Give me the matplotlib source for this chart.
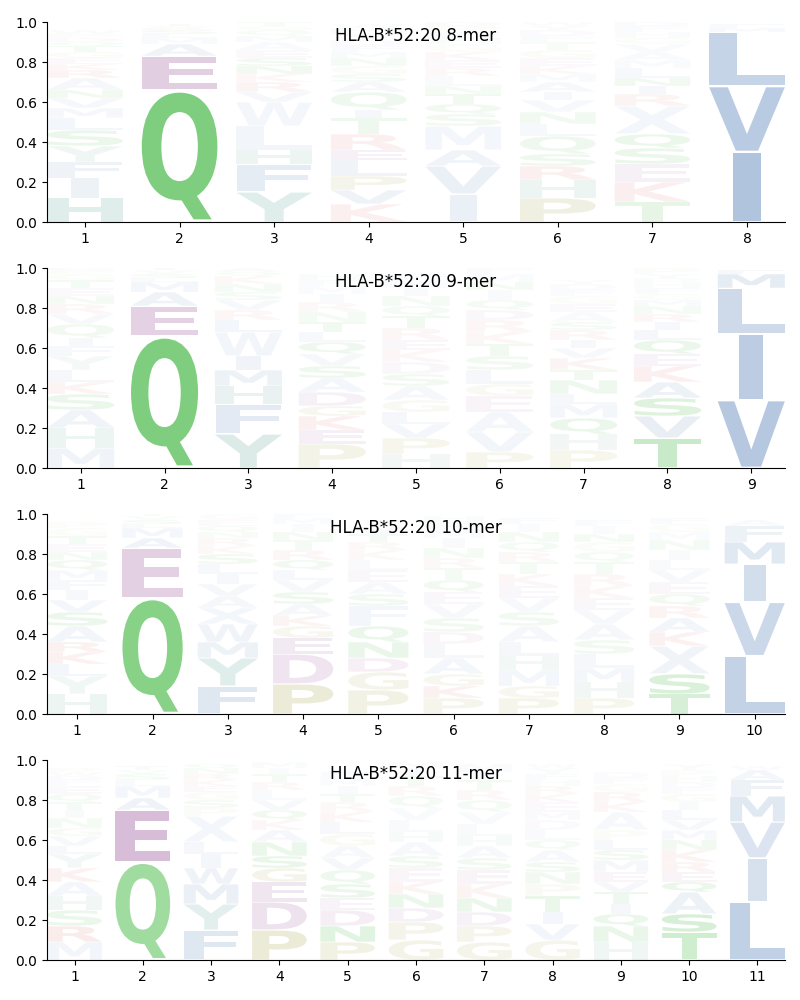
import matplotlib
matplotlib.use("Agg")
import matplotlib.pyplot as plt
from matplotlib.textpath import TextPath
from matplotlib.patches import PathPatch
from matplotlib.font_manager import FontProperties
from matplotlib.transforms import Affine2D

allele = "HLA-B*52:20"
lengths = [8, 9, 10, 11]

# each column: "letter height% opacity%" from bottom to top
logo_8 = [
    "H 12 35, I 10 22, F 8 20, Y 8 18, S 8 14, L 6 14, M 5 12, V 5 12, N 4 10, A 6 12, R 4 12, K 3 10, E 3 8, G 3 8, T 3 8, Q 2 6, D 2 6, P 2 6, W 2 6",
    "Q 66 95, E 17 65, A 6 18, M 3 8, L 2 8, S 2 8, R 1 6, V 1 6, T 1 6",
    "Y 15 35, F 14 32, H 7 20, L 12 16, W 12 14, V 5 12, R 5 12, K 4 10, N 4 10, S 4 10, E 4 8, A 4 8, M 3 8, Q 3 6, G 2 6, T 2 6",
    "K 9 18, V 7 20, P 7 22, L 8 18, E 5 18, R 8 18, T 8 12, I 4 12, Q 9 12, A 5 12, S 4 8, G 4 8, N 4 8, M 3 8, F 3 6, D 3 6, Y 3 6, H 3 6, W 2 5",
    "I 14 25, V 14 25, A 8 18, M 12 15, S 6 10, Q 5 10, T 5 10, N 4 8, L 5 8, R 4 8, E 4 8, K 4 8, G 4 6, H 3 6, F 3 6, P 3 6, D 2 5",
    "P 12 30, H 9 20, R 7 18, S 6 12, Q 9 12, L 6 10, N 6 10, V 6 10, I 4 10, A 5 10, M 4 8, K 4 8, E 4 8, G 4 8, T 4 6, F 3 6, D 3 6, Y 2 5, W 2 5",
    "T 10 18, K 10 20, E 9 18, S 8 14, Q 7 14, X 14 14, R 6 14, I 4 12, N 4 10, L 5 10, M 4 8, A 4 8, V 4 8, G 3 6, H 3 6, F 3 6, D 2 5",
    "I 35 100, V 33 88, L 27 72, M 2 10, F 2 8",
]
logo_9 = [
    "M 10 18, H 10 20, A 9 18, S 8 14, K 6 14, L 6 12, Y 7 12, F 5 10, I 4 10, Q 7 10, V 5 10, R 5 10, N 4 8, E 4 8, T 4 8, G 3 6, P 2 6, D 1 5",
    "Q 66 95, E 15 60, A 7 20, M 5 15, L 2 8, S 2 8, V 2 6, T 1 6",
    "Y 17 40, F 15 35, H 9 25, M 8 22, I 7 18, W 12 16, L 6 14, R 5 10, V 5 10, S 4 8, N 4 8, K 4 8, Q 2 6, A 2 6",
    "P 12 25, E 7 20, K 7 18, G 5 16, D 7 18, A 7 14, S 6 12, V 6 12, Q 6 12, L 5 10, T 5 10, N 5 8, R 5 8, I 4 8, M 4 6, F 3 6, H 3 5",
    "H 7 15, P 8 18, V 7 15, L 6 12, G 6 12, A 7 12, S 6 10, D 6 10, K 6 10, E 5 10, R 6 10, T 6 10, Q 5 8, N 5 8, I 4 8, M 4 6, F 3 6",
    "P 8 18, V 10 16, A 10 14, E 8 14, G 6 12, L 7 12, S 7 10, T 6 10, K 6 10, R 6 10, D 5 10, Q 5 8, I 5 8, N 4 8, M 4 6, F 3 6",
    "P 9 18, H 8 15, Q 8 14, M 7 14, L 5 12, N 7 12, T 5 10, K 6 12, V 5 10, I 4 10, R 5 10, S 4 8, A 5 8, E 4 8, G 4 6, F 3 6, D 3 6, Y 2 5",
    "T 15 40, V 11 28, S 9 24, A 8 22, K 8 18, E 6 15, Q 7 14, L 5 12, I 4 10, R 4 10, N 4 8, M 3 8, G 3 6, F 3 6, H 3 6, D 2 5, Y 2 5, P 3 6",
    "V 34 92, I 33 85, L 23 62, M 7 32, F 2 10",
]
logo_10 = [
    "H 10 20, Y 9 16, L 6 14, K 6 16, R 5 16, A 8 16, S 7 14, V 6 14, I 5 10, F 5 10, M 5 10, Q 5 10, N 4 8, E 4 8, T 4 8, G 4 6, P 3 6",
    "Q 58 88, E 25 62, A 5 18, M 5 14, L 2 8, S 2 8, V 2 6, T 1 6",
    "F 14 40, Y 14 35, M 8 22, W 9 18, X 8 14, A 6 12, V 6 12, I 5 10, L 5 10, S 5 10, K 4 8, R 4 8, N 3 6, Q 3 6, E 3 6, G 3 5",
    "P 15 42, D 15 35, E 8 28, G 6 16, K 5 14, A 6 12, S 6 12, V 6 10, L 5 10, Q 5 10, R 5 10, T 5 8, N 4 8, I 4 6, M 3 6, F 2 5",
    "P 12 28, G 9 22, D 7 20, N 8 16, Q 8 14, F 10 14, S 6 10, A 6 10, E 6 10, L 5 8, K 5 8, R 4 8, T 4 8, V 4 8, I 3 6",
    "P 8 20, K 6 16, G 6 16, A 8 14, L 7 12, D 6 12, S 7 10, V 7 10, E 6 10, Q 6 10, T 6 8, R 5 8, N 5 8, I 5 8, M 4 6, F 4 6, H 3 5",
    "P 8 20, G 6 16, M 8 15, H 7 14, L 7 12, A 8 12, S 7 10, V 7 10, E 6 10, K 6 10, T 6 8, R 5 8, Q 5 8, N 5 8, I 4 6, F 3 6",
    "P 8 18, H 8 15, M 7 14, L 7 12, S 7 10, A 8 12, V 7 10, E 6 10, K 6 10, R 6 10, T 6 8, Q 5 8, G 5 8, N 4 8, I 4 6, F 3 6",
    "T 10 30, S 10 28, X 14 18, K 7 16, A 7 16, R 6 14, Q 6 10, E 6 10, V 6 10, L 5 8, I 5 8, N 5 8, M 4 6, G 4 6, F 3 6",
    "L 29 75, V 27 65, I 19 55, M 11 38, F 8 22, A 3 8",
]
logo_11 = [
    "M 9 16, R 8 22, S 8 14, H 7 16, A 7 14, K 7 16, Y 7 14, L 4 10, V 5 10, G 4 10, N 5 8, I 4 8, T 4 8, Q 4 8, E 4 8, F 3 6, D 2 6, W 2 5, P 2 5",
    "Q 49 70, E 26 88, A 6 20, M 6 15, L 3 8, S 3 8, V 2 6, T 2 6",
    "F 15 40, Y 13 32, M 10 25, W 8 20, I 7 14, L 6 12, X 13 14, P 4 8, S 4 8, G 4 8, E 3 8, K 3 8, R 3 8, N 3 6, Q 2 6",
    "P 15 42, D 14 38, E 10 32, G 7 22, S 6 16, N 7 14, A 6 12, K 5 10, Q 5 10, V 5 10, L 5 8, R 4 8, T 4 8, I 3 6, M 3 6",
    "P 9 28, N 8 22, D 8 22, E 6 15, S 7 14, Q 7 12, V 6 12, A 6 10, G 6 10, L 6 10, K 5 10, R 5 8, T 4 8, I 4 8, M 4 6, F 3 6",
    "G 10 25, P 9 22, D 7 18, N 7 14, K 6 14, E 7 12, S 6 10, A 7 10, H 5 10, L 6 8, V 6 8, Q 6 8, R 5 8, T 5 8, I 4 6, M 3 6",
    "G 9 22, P 8 20, D 7 18, N 7 14, K 7 14, E 7 14, S 6 10, A 6 10, H 5 10, L 6 8, V 6 8, Q 6 8, R 5 8, T 5 8, I 4 6, M 4 6",
    "G 10 20, V 8 16, I 6 14, T 8 14, P 6 10, N 6 10, S 5 10, A 6 10, Q 5 8, L 5 8, D 5 8, M 4 8, E 5 8, K 4 8, R 4 8, H 3 6, F 3 6, Y 3 6, W 2 5",
    "H 9 18, N 8 16, Q 6 14, I 5 12, T 6 12, V 5 12, E 5 12, M 6 12, S 5 10, L 5 10, P 5 8, A 9 10, K 5 10, R 5 10, G 4 6, F 3 6, D 3 6",
    "T 14 35, S 9 30, A 11 22, Q 5 15, E 5 14, R 5 14, K 6 14, N 5 10, M 5 10, V 5 10, L 5 10, I 4 8, G 4 8, F 3 6, D 3 6, H 3 6, P 3 5, Y 3 5",
    "L 29 78, I 22 50, V 18 45, M 13 38, F 8 22, A 5 14, W 2 6",
]
logos = [logo_8, logo_9, logo_10, logo_11]

colors = {}
for aa in "ACFILMVWX":
    colors[aa] = "#b0c4de"
for aa in "HY":
    colors[aa] = "#a8cfc6"
for aa in "NQST":
    colors[aa] = "#78cc78"
for aa in "DE":
    colors[aa] = "#d2b4d2"
for aa in "KR":
    colors[aa] = "#eeaaaa"
for aa in "GP":
    colors[aa] = "#d0d0a0"

fp = FontProperties(family="DejaVu Sans", weight="bold")
e_width = TextPath((0, 0), "E", size=1, prop=fp).get_extents().width


def draw_letter(ax, ch, x, y0, h, color, alpha, width=0.8, vpad=0.04):
    path = TextPath((0, 0), ch, size=1, prop=fp)
    bb = path.get_extents()
    sx = min(width / bb.width, width / e_width)
    sy = h * (1 - vpad) / bb.height
    tr = Affine2D().translate(-bb.x0 - bb.width / 2, -bb.y0).scale(sx, sy)
    tr = tr.translate(x, y0 + h * vpad / 2)
    ax.add_patch(PathPatch(tr.transform_path(path), fc=color, ec="none",
                           alpha=alpha, lw=0))


def parse(col):
    out = []
    for item in col.split(","):
        ch, h, a = item.split()
        out.append((ch, float(h) / 100, float(a) / 100))
    return out


fig = plt.figure(figsize=(8, 10), dpi=100)
bottoms = [0.778, 0.532, 0.286, 0.040]
for n, logo, b in zip(lengths, logos, bottoms):
    ax = fig.add_axes([0.059, b, 0.922, 0.2])
    for pos, col in enumerate(logo, start=1):
        y = 0.0
        for ch, h, a in parse(col):
            draw_letter(ax, ch, pos, y, h, colors[ch], a)
            y += h
    ax.set_xlim(0.6, n + 0.4)
    ax.set_ylim(0, 1)
    ax.set_xticks(range(1, n + 1))
    ax.set_yticks([0, 0.2, 0.4, 0.6, 0.8, 1.0])
    ax.spines["top"].set_visible(False)
    ax.spines["right"].set_visible(False)
    ax.text(0.5, 0.93, f"{allele} {n}-mer", transform=ax.transAxes,
            ha="center", va="center", fontsize=12, zorder=5)

fig.savefig("out.png", dpi=100)
